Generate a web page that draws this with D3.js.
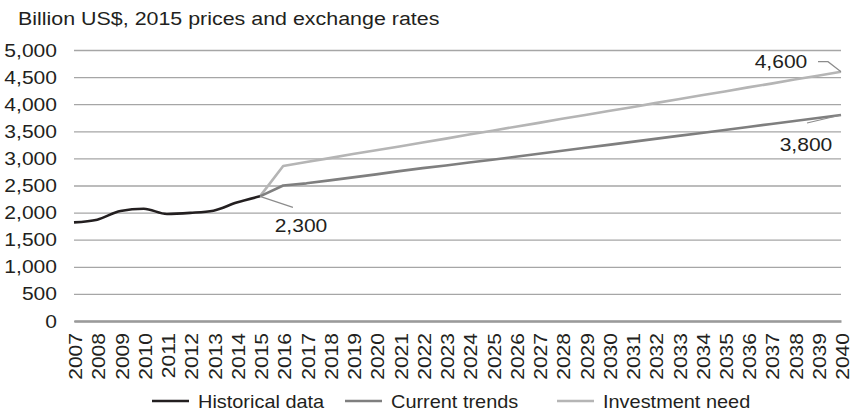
<!DOCTYPE html>
<html>
<head>
<meta charset="utf-8">
<script src="https://cdn.jsdelivr.net/npm/d3@7"></script>
<style>
  html, body { margin: 0; padding: 0; background: #fff; }
  svg { display: block; font-family: "Liberation Sans", Arial, Helvetica, sans-serif; }
</style>
</head>
<body>
<svg id="chart" width="857" height="411"></svg>
<script>
// Years on the category axis
const years = d3.range(2007, 2041).map(String);

// Billion US$, 2015 prices and exchange rates
const historicalYears = ["2007","2008","2009","2010","2011","2012","2013","2014","2015"];
const historicalValues = [1820, 1870, 2030, 2070, 1975, 1995, 2035, 2185, 2300];

const projectionYears = d3.range(2015, 2041).map(String);
const currentTrends = [2300, 2500, 2540, 2595, 2650, 2705, 2765, 2820, 2870, 2925,
                       2975, 3030, 3085, 3140, 3195, 3250, 3305, 3360, 3415, 3470,
                       3525, 3580, 3635, 3690, 3745, 3800];
const investmentNeed = [2300, 2860, 2935, 3005, 3080, 3150, 3220, 3295, 3365, 3440,
                        3510, 3585, 3655, 3730, 3800, 3875, 3945, 4020, 4090, 4165,
                        4235, 4310, 4380, 4455, 4525, 4600];

const yTicks = [0, 500, 1000, 1500, 2000, 2500, 3000, 3500, 4000, 4500, 5000];
const seriesNames = ["Historical data", "Current trends", "Investment need"];
const seriesColors = ["#231f20", "#7f7f7f", "#b5b5b5"];

const svg = d3.select("#chart");
const margin = { left: 74, right: 16, top: 50, bottom: 90 };
const W = 857, H = 411;

const x = d3.scalePoint().domain(years).range([margin.left, W - margin.right]);
const y = d3.scaleLinear().domain([0, 5000]).range([H - margin.bottom, margin.top]);

// Text is set slightly wide: a fixed size plus a horizontal stretch
const fontSize = 18.8;
const stretch = 1.12;
const textColor = "#231f20";

// Title
svg.append("text")
  .attr("transform", `translate(18,25) scale(1.14,1)`)
  .attr("font-size", fontSize).attr("fill", textColor)
  .text("Billion US$, 2015 prices and exchange rates");

// Y axis with gridlines
const yAxis = svg.append("g")
  .attr("transform", `translate(${margin.left},0)`)
  .call(d3.axisLeft(y).tickValues(yTicks).tickFormat(d3.format(","))
        .tickSize(-(W - margin.right - margin.left)).tickPadding(17));
yAxis.select(".domain").remove();
yAxis.selectAll(".tick line").attr("stroke", "#a6a6a6").attr("stroke-width", 1.3);
yAxis.selectAll(".tick text")
  .attr("font-size", fontSize).attr("fill", textColor)
  .attr("font-family", "Liberation Sans, Arial, sans-serif")
  .attr("x", 0)
  .attr("transform", `translate(-17,0) scale(${stretch},1)`);

// Category axis
const xAxis = svg.append("g")
  .attr("transform", `translate(0,${y(0)})`)
  .call(d3.axisBottom(x).tickSize(0).tickPadding(0));
xAxis.select(".domain").attr("stroke", "#9a9a9a").attr("stroke-width", 2.6);
xAxis.selectAll(".tick text")
  .attr("font-size", fontSize).attr("fill", textColor)
  .attr("font-family", "Liberation Sans, Arial, sans-serif")
  .attr("text-anchor", "end")
  .attr("transform", `translate(0,12) rotate(-90) scale(${stretch},1)`)
  .attr("x", 0).attr("y", 0).attr("dy", "0.41em");

// Series lines
const histLine = d3.line().x(d => x(d[0])).y(d => y(d[1])).curve(d3.curveMonotoneX);
const projLine = d3.line().x(d => x(d[0])).y(d => y(d[1]));

svg.append("path")
  .datum(d3.zip(projectionYears, investmentNeed))
  .attr("fill", "none").attr("stroke", seriesColors[2]).attr("stroke-width", 2.6)
  .attr("stroke-linejoin", "round").attr("d", projLine);
svg.append("path")
  .datum(d3.zip(projectionYears, currentTrends))
  .attr("fill", "none").attr("stroke", seriesColors[1]).attr("stroke-width", 2.6)
  .attr("stroke-linejoin", "round").attr("d", projLine);
svg.append("path")
  .datum(d3.zip(historicalYears, historicalValues))
  .attr("fill", "none").attr("stroke", seriesColors[0]).attr("stroke-width", 2.6)
  .attr("stroke-linejoin", "round").attr("d", histLine);

// Value callouts with leader lines
const last = projectionYears.length - 1;
const callouts = [
  { year: "2015", value: historicalValues[historicalValues.length - 1],
    leader: [[0, 0], [33, 11]], tx: 301, ty: 225 },
  { year: "2040", value: investmentNeed[last],
    leader: [[0, 0], [-13, -10], [-23, -10]], tx: 781, ty: 61 },
  { year: "2040", value: currentTrends[last],
    leader: [[0, 0], [-34, 8]], tx: 806, ty: 144 }
];
callouts.forEach(c => {
  const px = x(c.year), py = y(c.value);
  svg.append("path")
    .attr("d", d3.line()(c.leader.map(p => [px + p[0], py + p[1]])))
    .attr("fill", "none").attr("stroke", "#8c8c8c").attr("stroke-width", 1.2);
  svg.append("text")
    .attr("transform", `translate(${c.tx},${c.ty}) scale(${stretch},1)`)
    .attr("dy", "0.35em")
    .attr("text-anchor", "middle").attr("font-size", fontSize).attr("fill", textColor)
    .text(d3.format(",")(c.value));
});

// Legend
const legendItems = [
  { name: seriesNames[0], color: seriesColors[0], x: 152 },
  { name: seriesNames[1], color: seriesColors[1], x: 345 },
  { name: seriesNames[2], color: seriesColors[2], x: 557 }
];
const legend = svg.append("g").attr("transform", "translate(0,401)");
legendItems.forEach(it => {
  legend.append("line").attr("x1", it.x).attr("x2", it.x + 37)
    .attr("y1", 0).attr("y2", 0).attr("stroke", it.color).attr("stroke-width", 2.6);
  legend.append("text")
    .attr("transform", `translate(${it.x + 46},0) scale(1.06,1)`)
    .attr("dy", "0.35em")
    .attr("font-size", fontSize).attr("fill", textColor).text(it.name);
});
</script>
</body>
</html>
